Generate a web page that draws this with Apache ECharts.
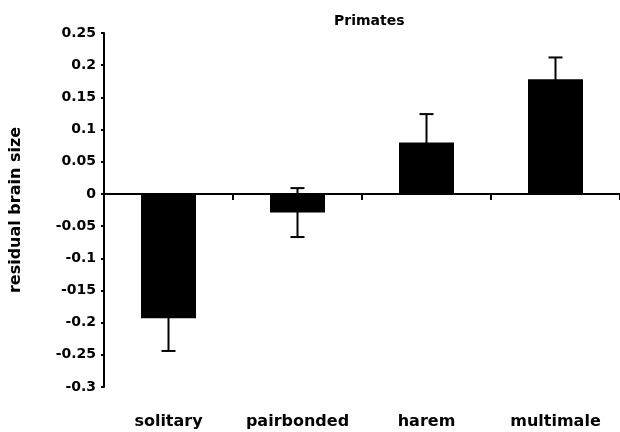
<!DOCTYPE html>
<html>
<head>
<meta charset="utf-8">
<script src="https://cdn.jsdelivr.net/npm/echarts@6/dist/echarts.min.js"></script>
<style>
html,body{margin:0;padding:0;background:#fff;}
#chart{width:620px;height:432px;}
</style>
</head>
<body>
<div id="chart"></div>
<script>
var categories = ['solitary', 'pairbonded', 'harem', 'multimale'];
var brainSize = [-0.193, -0.029, 0.080, 0.178];
var errorSize = [0.051, 0.038, 0.044, 0.034];
var yTickLabels = ['-0.3', '-0.25', '-0.2', '-015', '-0.1', '-0.05', '0', '0.05', '0.1', '0.15', '0.2', '0.25'];
var yMin = -0.3, yMax = 0.25, yStep = 0.05;

var FONT = 'DejaVu Sans';
var errData = categories.map(function (c, i) {
  return [i, brainSize[i] - errorSize[i], brainSize[i] + errorSize[i]];
});

var chart = echarts.init(document.getElementById('chart'));
chart.setOption({
  animation: false,
  backgroundColor: '#fff',
  title: {
    text: 'Primates',
    left: 334,
    top: 14,
    padding: 0,
    textStyle: { fontFamily: FONT, fontWeight: 'bold', fontSize: 14, color: '#000' }
  },
  grid: { left: 96, right: -2, top: 33, bottom: 45, containLabel: false },
  xAxis: [{
    type: 'category',
    data: categories,
    axisLine: { onZero: true, lineStyle: { color: '#000', width: 2 } },
    axisTick: { show: true, length: 6, lineStyle: { color: '#000', width: 2 } },
    axisLabel: { show: false },
    splitLine: { show: false }
  }, {
    type: 'category',
    data: categories,
    position: 'bottom',
    axisLine: { show: false, onZero: false },
    axisTick: { show: false },
    axisLabel: { interval: 0, margin: 27, fontFamily: FONT, fontWeight: 'bold', fontSize: 16, color: '#000' },
    splitLine: { show: false }
  }],
  yAxis: {
    type: 'value',
    min: yMin,
    max: yMax,
    interval: yStep,
    name: 'residual brain size',
    nameLocation: 'middle',
    nameRotate: 90,
    nameGap: 80,
    nameTextStyle: { fontFamily: FONT, fontWeight: 'bold', fontSize: 16, color: '#000' },
    axisLine: { show: true, lineStyle: { color: '#000', width: 2 } },
    axisTick: { show: true, length: 3, lineStyle: { color: '#000', width: 2 } },
    splitLine: { show: false },
    axisLabel: {
      margin: 8,
      fontFamily: FONT, fontWeight: 'bold', fontSize: 14, color: '#000',
      formatter: function (v) {
        var idx = Math.round((v - yMin) / yStep);
        return yTickLabels[idx] !== undefined ? yTickLabels[idx] : '';
      }
    }
  },
  series: [{
    type: 'bar',
    data: brainSize,
    barWidth: 55,
    itemStyle: { color: '#000' }
  }, {
    type: 'custom',
    data: errData,
    z: 5,
    renderItem: function (params, api) {
      var x = api.value(0);
      var lo = api.coord([x, api.value(1)]);
      var hi = api.coord([x, api.value(2)]);
      var hw = 7;
      var style = { stroke: '#000', lineWidth: 2 };
      return {
        type: 'group',
        children: [
          { type: 'line', shape: { x1: lo[0], y1: lo[1], x2: hi[0], y2: hi[1] }, style: style },
          { type: 'line', shape: { x1: lo[0] - hw, y1: lo[1], x2: lo[0] + hw, y2: lo[1] }, style: style },
          { type: 'line', shape: { x1: hi[0] - hw, y1: hi[1], x2: hi[0] + hw, y2: hi[1] }, style: style }
        ]
      };
    }
  }]
});
</script>
</body>
</html>
